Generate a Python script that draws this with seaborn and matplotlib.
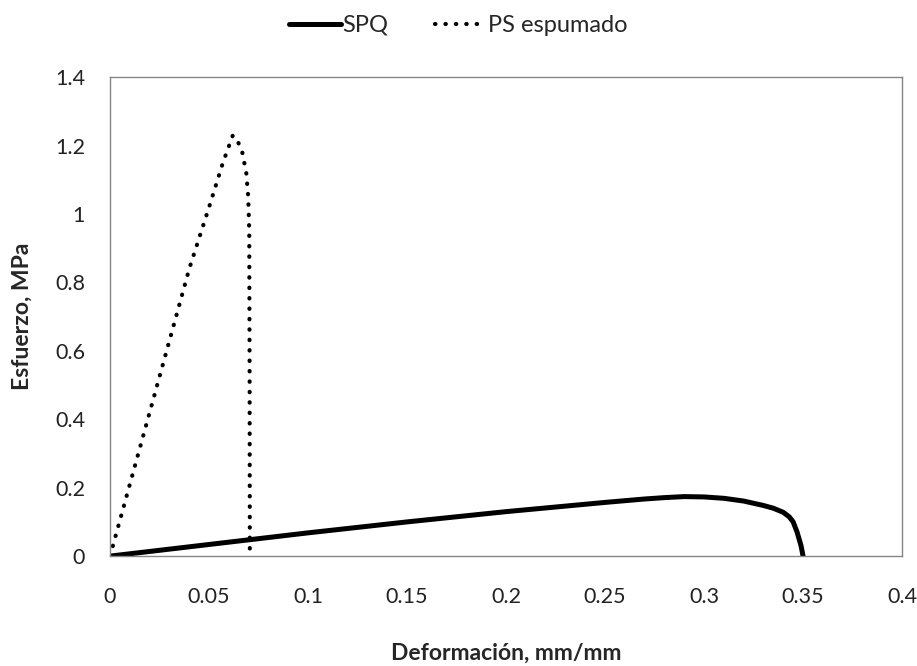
import matplotlib
matplotlib.use("Agg")
from matplotlib import pyplot as plt
import seaborn as sns
import pandas as pd

# SPQ curve
spq_x = [0, 0.05, 0.10, 0.15, 0.20, 0.25, 0.26, 0.27, 0.28, 0.29, 0.30,
         0.31, 0.32, 0.33, 0.335, 0.34, 0.343, 0.345, 0.347, 0.349, 0.35]
spq_y = [0, 0.034, 0.068, 0.10, 0.13, 0.157, 0.162, 0.167, 0.171, 0.174,
         0.173, 0.169, 0.161, 0.148, 0.140, 0.128, 0.115, 0.100, 0.070,
         0.030, 0.0]

# PS espumado curve
ps_x = [0, 0.01, 0.02, 0.03, 0.04, 0.05, 0.057, 0.062, 0.0647, 0.0668,
        0.0678, 0.0688, 0.0698, 0.0703, 0.0705, 0.0706]
ps_y = [0, 0.21, 0.42, 0.63, 0.84, 1.02, 1.15, 1.23, 1.21, 1.18, 1.15,
        1.12, 1.05, 0.95, 0.50, 0.0]

x_ticks = [0, 0.05, 0.1, 0.15, 0.2, 0.25, 0.3, 0.35, 0.4]
x_labels = ["0", "0.05", "0.1", "0.15", "0.2", "0.25", "0.3", "0.35", "0.4"]
y_ticks = [0, 0.2, 0.4, 0.6, 0.8, 1.0, 1.2, 1.4]
y_labels = ["0", "0.2", "0.4", "0.6", "0.8", "1", "1.2", "1.4"]

sns.set_style("white")
plt.rcParams["font.family"] = ["Lato", "DejaVu Sans"]

df_spq = pd.DataFrame({"x": spq_x, "y": spq_y})
df_ps = pd.DataFrame({"x": ps_x, "y": ps_y})

fig = plt.figure(figsize=(9.17, 6.66), dpi=100)
ax = fig.add_axes([0.12, 0.165, 0.8637, 0.719])

sns.lineplot(data=df_spq, x="x", y="y", ax=ax, sort=False, estimator=None,
             color="black", linewidth=3.6, label="SPQ")
sns.lineplot(data=df_ps, x="x", y="y", ax=ax, sort=False, estimator=None,
             color="black", linewidth=3.0, label="PS espumado")
# dotted style with round dots
ps_line = ax.lines[1]
ps_line.set_linestyle((0, (0.1, 2.4)))
ps_line.set_dash_capstyle("round")
ax.lines[0].set_solid_joinstyle("round")

ax.set_xlim(0, 0.4)
ax.set_ylim(0, 1.4)
ax.set_xticks(x_ticks)
ax.set_xticklabels(x_labels)
ax.set_yticks(y_ticks)
ax.set_yticklabels(y_labels)
ax.tick_params(axis="both", length=0, labelsize=15.5, colors="#222222")
ax.tick_params(axis="x", pad=22)
ax.tick_params(axis="y", pad=18)

for s in ax.spines.values():
    s.set_visible(True)
    s.set_color("#868686")
    s.set_linewidth(1.0)

ax.set_xlabel("Deformación, mm/mm", fontsize=16.5, fontweight="bold",
              labelpad=26)
ax.set_ylabel("Esfuerzo, MPa", fontsize=16.5, fontweight="bold", labelpad=16)

ax.get_legend().remove()
handles, labels = ax.get_legend_handles_labels()
leg = fig.legend(handles, labels, loc="center", bbox_to_anchor=(0.5, 0.962),
                 ncol=2, frameon=False, fontsize=17, handlelength=2.2,
                 columnspacing=2.0, handletextpad=0.05)
for h in leg.get_lines():
    if h.get_label() == "PS espumado":
        h.set_linestyle((0, (0.1, 2.4)))
        h.set_dash_capstyle("round")

fig.savefig("out.png", dpi=100)
